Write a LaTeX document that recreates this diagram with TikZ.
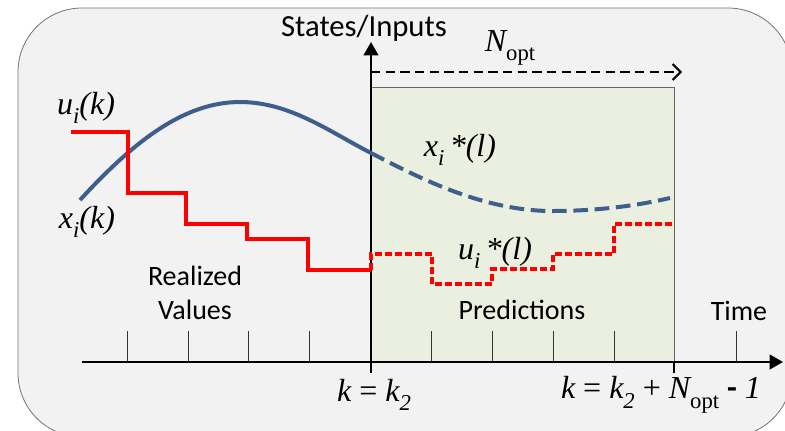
\documentclass[tikz,border=0pt]{standalone}
\usepackage{fontspec}
\setmainfont{Carlito}
\newfontfamily\tms{Liberation Serif}
\usetikzlibrary{arrows.meta}
\definecolor{bgcol}{HTML}{F2F2F2}
\definecolor{greencol}{HTML}{EBEFDF}
\definecolor{bluecol}{HTML}{3E5F8B}
\definecolor{redcol}{HTML}{FF0000}
\newcommand\mysub[1]{\raisebox{-0.3em}{\fontsize{17}{17}\selectfont #1}}
\tikzset{
  txt/.style={font=\fontsize{21}{26}\selectfont, inner sep=0pt, align=center},
  mth/.style={font=\tms\itshape\fontsize{24}{28}\selectfont, inner sep=0pt},
  axisline/.style={line width=1.5pt, black},
  ticks/.style={line width=0.6pt, black!80},
  bluecurve/.style={line width=3pt, bluecol, line cap=butt},
  redline/.style={line width=2.6pt, redcol},
}
\begin{document}
\begin{tikzpicture}[x=0.75pt,y=-0.75pt]
\useasboundingbox (0,0) rectangle (785,430);
\begin{scope}
  \clip (0,0) rectangle (785,430);
  \draw[fill=bgcol, draw=black!55, line width=0.6pt, rounded corners=48pt] (18,8) rectangle (792,437);
\end{scope}
% prediction window
\draw[fill=greencol, draw=black!60, line width=0.6pt] (371,87) rectangle (674,362);
% ticks
\foreach \x in {127,188,248,309,431,492,553,614,736}
  \draw[ticks] (\x,331) -- (\x,362);
\draw[line width=1.5pt] (674,362) -- (674,373);
% axes
\coordinate (xo) at (82,362);
\coordinate (xe) at (783,362);
\coordinate (yo) at (371,373);
\coordinate (ye) at (371,42);
\draw[axisline, -{Triangle[length=10pt, width=11pt]}] (xo) -- (xe);
\draw[axisline, -{Triangle[length=10pt, width=11pt]}] (yo) -- (ye);
% N_opt arrow
\coordinate (na) at (371,72);
\coordinate (nb) at (682,72);
\draw[line width=1.5pt, dash pattern=on 7pt off 4pt, -{Straight Barb[length=6pt, width=12pt, line width=1.5pt]}] (na) -- (nb);
% blue curve
\coordinate (b0) at (80,200);
\coordinate (b1) at (240,102);
\coordinate (b2) at (371,153);
\coordinate (b3) at (552,211);
\coordinate (b4) at (670,198);
\draw[bluecurve] (b0) .. controls (135,140) and (185,102) .. (b1) .. controls (290,102) and (330,132) .. (b2);
\draw[bluecurve, dash pattern=on 11pt off 5pt] (b2) .. controls (412,174) and (480,211) .. (b3) .. controls (600,211) and (640,205) .. (b4);
% red inputs
\draw[redline] (71,132) -- (128,132) -- (128,193) -- (186,193) -- (186,224) -- (247,224) -- (247,239) -- (308,239) -- (308,270) -- (371,270);
\draw[redline, dash pattern=on 5pt off 2.5pt] (371,270) -- (371,254) -- (432,254) -- (432,284) -- (492,284) -- (492,269) -- (553,269) -- (553,254) -- (614,254) -- (614,224) -- (674,224);
% labels
\node[txt, font=\fontsize{23}{28}\selectfont] (states) at (364,28) {States/Inputs};
\node[mth] (nopt) at (510,48) {N\mysub{\upshape opt}};
\node[mth] (uk) at (86,108) {u\mysub{i}(k)};
\node[mth] (xk) at (87,222) {x\mysub{i}(k)};
\node[mth] (xs) at (460,150) {x\mysub{i}\,*(l)};
\node[mth] (us) at (495,253) {u\mysub{i}\,*(l)};
\node[txt] (real) at (195,293) {Realized\\Values};
\node[txt] (pred) at (522,310) {Predictions};
\node[txt] (time) at (739,311) {Time};
\node[mth] (kk) at (374,395) {k {\upshape =} k\mysub{2}};
\node[mth] (kn) at (661,395) {k {\upshape =} k\mysub{2} {\upshape +} N\mysub{\upshape opt} {\normalfont\bfseries -} 1};
\end{tikzpicture}
\end{document}
